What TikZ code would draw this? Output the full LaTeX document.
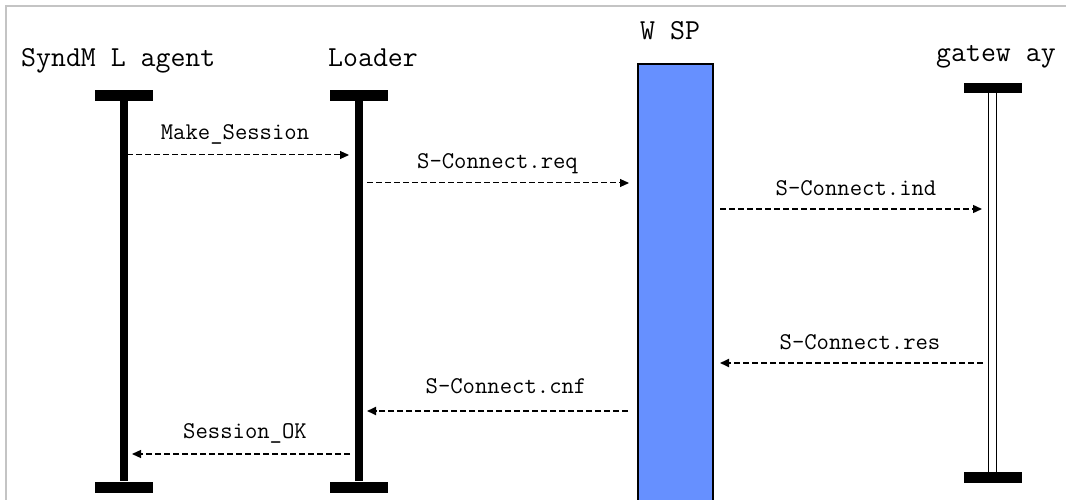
\documentclass[tikz,border=0pt]{standalone}
\usepackage{fontspec}
\usetikzlibrary{arrows.meta}
\definecolor{wspblue}{HTML}{6690FF}
\definecolor{framegray}{HTML}{C4C4C4}
\begin{document}
\begin{tikzpicture}[x=1pt,y=-1pt,
  title/.style={font=\ttfamily\fontsize{29}{34}\selectfont, anchor=base west, inner sep=0pt},
  msg/.style={font=\ttfamily\fontsize{24}{28}\selectfont, anchor=base, inner sep=0pt},
  bar/.style={fill=black, draw=none, minimum width=58pt, minimum height=11pt, inner sep=0pt},
  life/.style={line width=8pt},
  call/.style={dash pattern=on 6pt off 3pt, line width=1pt, -{Triangle[length=9pt,width=8pt]}},
  callthick/.style={call, line width=1.8pt}
]
\useasboundingbox (0,0) rectangle (1066,500);
\fill[white] (0,0) rectangle (1066,500);
% frame
\draw[framegray, line width=2pt] (6,502) -- (6,6) -- (1068,6);

% titles
\node[title] (tA) at (21,67) {SyndM L agent};
\node[title] (tL) at (328,67) {Loader};
\node[title] (tW) at (640,40) {W SP};
\node[title] (tG) at (936,62) {gatew ay};

% SyncML agent lifeline
\node[bar] (atop) at (124,95.5) {};
\node[bar] (abot) at (124,487) {};
\draw[life] (atop.south) -- (abot.north);

% Loader lifeline
\node[bar] (ltop) at (358.5,95.5) {};
\node[bar] (lbot) at (358.5,487) {};
\draw[life] (ltop.south) -- (lbot.north);

% WSP box
\draw[fill=wspblue, line width=1.5pt] (638,64) rectangle (713,506);

% gateway lifeline
\node[bar, minimum height=10pt] (gtop) at (992.5,88) {};
\node[bar, minimum height=11pt] (gbot) at (992.5,477.5) {};
\draw[line width=1.3pt, double=white, double distance=6.5pt] (gtop.south) -- (gbot.north);

% messages
\coordinate (m1s) at (127,155);  \coordinate (m1e) at (349,155);
\coordinate (m2s) at (367,183);  \coordinate (m2e) at (629,183);
\coordinate (m3s) at (720,209);  \coordinate (m3e) at (982,209);
\coordinate (m4s) at (983,363);  \coordinate (m4e) at (720,363);
\coordinate (m5s) at (628,411);  \coordinate (m5e) at (367,411);
\coordinate (m6s) at (350,454);  \coordinate (m6e) at (132,454);

\draw[call] (m1s) -- (m1e);
\draw[call] (m2s) -- (m2e);
\draw[call, line width=1.3pt] (m3s) -- (m3e);
\draw[callthick] (m4s) -- (m4e);
\draw[callthick] (m5s) -- (m5e);
\draw[call, line width=1.3pt] (m6s) -- (m6e);

\node[msg] (l1) at (235,140) {Make\_Session};
\node[msg] (l2) at (497.5,168) {S-Connect.req};
\node[msg] (l3) at (856,195) {S-Connect.ind};
\node[msg] (l4) at (860,349) {S-Connect.res};
\node[msg] (l5) at (506,393) {S-Connect.cnf};
\node[msg] (l6) at (245,438) {Session\_OK};
\end{tikzpicture}
\end{document}
